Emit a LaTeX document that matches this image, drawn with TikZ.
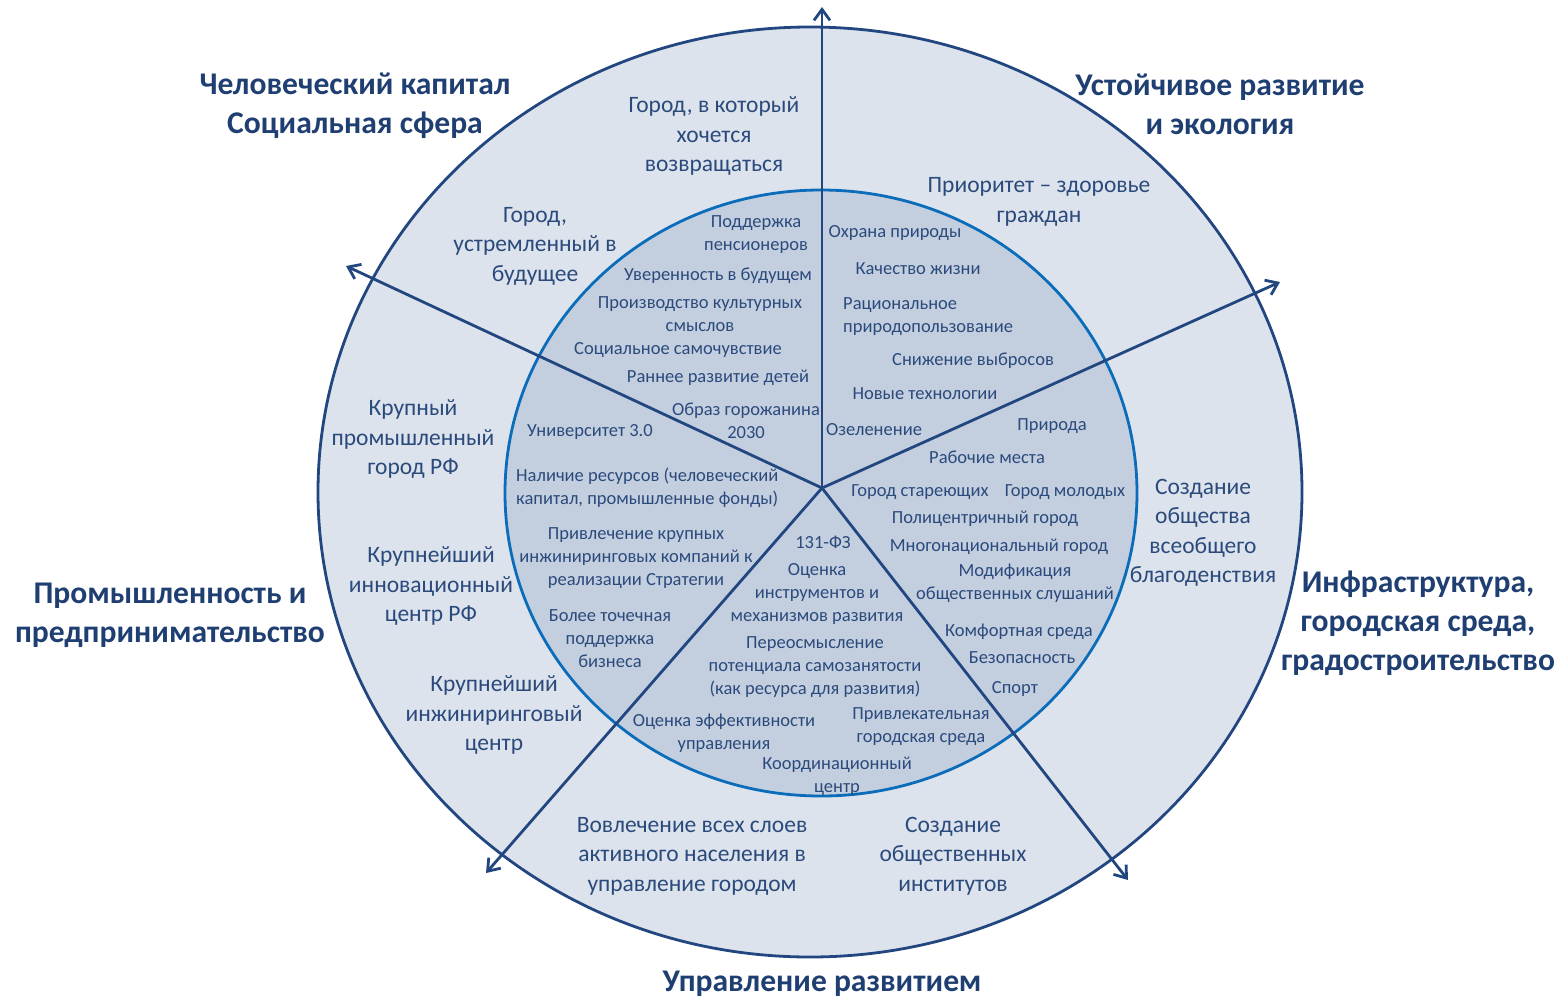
\documentclass[tikz,border=0pt]{standalone}
\usepackage{fontspec}
\setmainfont{Carlito}
\usetikzlibrary{arrows.meta}
\definecolor{outerfill}{HTML}{DCE3EC}
\definecolor{innerfill}{HTML}{C3CFDF}
\definecolor{innerline}{HTML}{0B6CBA}
\definecolor{axisc}{HTML}{22467F}
\definecolor{txt}{HTML}{2B4A7C}
\definecolor{hdrc}{HTML}{1F3F72}
\begin{document}
\begin{tikzpicture}[x=1pt,y=-1pt,
  axisline/.style={draw=axisc,line width=2.8pt,-{Straight Barb[length=11pt,width=16pt,line width=2.8pt]}},
  intxt/.style={text=txt,inner sep=0pt,align=center,yshift=-2pt,font=\fontsize{18.5}{23}\selectfont},
  outtxt/.style={text=txt,inner sep=0pt,align=center,yshift=-2pt,font=\fontsize{23.5}{29.5}\selectfont},
  hdrtxt/.style={text=hdrc,inner sep=0pt,align=center,yshift=-2pt,font=\fontsize{31.6}{39}\selectfont\bfseries}]
\useasboundingbox (0,0) rectangle (1563,999);
\filldraw[fill=outerfill,draw=axisc,line width=2.8pt] (810,492) ellipse [x radius=492, y radius=465];
\filldraw[fill=innerfill,draw=innerline,line width=2.8pt] (821,493) ellipse [x radius=316, y radius=303];
\coordinate (C) at (822,488);
\coordinate (N) at (822,7);
\coordinate (UR) at (1280,282);
\coordinate (UL) at (346,266);
\coordinate (LL) at (486,873);
\coordinate (LR) at (1128,880);
\draw[axisline] (C) -- (N);
\draw[axisline] (C) -- (UR);
\draw[axisline] (C) -- (UL);
\draw[axisline] (C) -- (LL);
\draw[axisline] (C) -- (LR);
% headers
\node[hdrtxt] (h1) at (355,104) {Человеческий капитал\\Социальная сфера};
\node[hdrtxt] (h2) at (1220,102) {Устойчивое развитие\\и экология};
\node[hdrtxt] (h3) at (170,613) {Промышленность и\\предпринимательство};
\node[hdrtxt] (h4) at (1418,621) {Инфраструктура,\\городская среда,\\градостроительство};
\node[hdrtxt] (h5) at (822,982) {Управление развитием};
% outer ring
\node[outtxt] (o1) at (714,134) {Город, в который\\хочется\\возвращаться};
\node[outtxt] (o2) at (535,244) {Город,\\устремленный в\\будущее};
\node[outtxt] (o3) at (1039,200) {Приоритет – здоровье\\граждан};
\node[outtxt] (o4) at (413,437) {Крупный\\промышленный\\город РФ};
\node[outtxt] (o5) at (431,584) {Крупнейший\\инновационный\\центр РФ};
\node[outtxt] (o6) at (494,713) {Крупнейший\\инжиниринговый\\центр};
\node[outtxt] (o7) at (1203,531) {Создание\\общества\\всеобщего\\благоденствия};
\node[outtxt] (o8) at (692,854) {Вовлечение всех слоев\\активного населения в\\управление городом};
\node[outtxt] (o9) at (953,854) {Создание\\общественных\\институтов};
% inner: upper left
\node[intxt] (a1) at (756,232.5) {Поддержка\\пенсионеров};
\node[intxt] (a2) at (718,274) {Уверенность в будущем};
\node[intxt] (a3) at (700,312.5) {Производство культурных\\смыслов};
\node[intxt] (a4) at (678,348) {Социальное самочувствие};
\node[intxt] (a5) at (718,376) {Раннее развитие детей};
\node[intxt] (a6) at (746,418.5) {Образ горожанина\\2030};
\node[intxt] (a7) at (590,430) {Университет 3.0};
% inner: upper right
\node[intxt] (b1) at (895,231) {Охрана природы};
\node[intxt] (b2) at (918,267) {Качество жизни};
\node[intxt,align=left,anchor=west] (b3) at (843,314.5) {Рациональное\\природопользование};
\node[intxt] (b4) at (973,359) {Снижение выбросов};
\node[intxt] (b5) at (925,392) {Новые технологии};
\node[intxt] (b6) at (874,428) {Озеленение};
% inner: right
\node[intxt] (c1) at (1052,424) {Природа};
\node[intxt] (c2) at (987,455) {Рабочие места};
\node[intxt] (c3) at (920,490) {Город стареющих};
\node[intxt] (c4) at (1065,490) {Город молодых};
\node[intxt] (c5) at (985,517) {Полицентричный город};
\node[intxt] (c6) at (999,545) {Многонациональный город};
\node[intxt] (c7) at (1015,581.5) {Модификация\\общественных слушаний};
\node[intxt] (c8) at (1019,630) {Комфортная среда};
\node[intxt] (c9) at (1022,656) {Безопасность};
\node[intxt] (c10) at (1015,687) {Спорт};
\node[intxt] (c11) at (921,724.5) {Привлекательная\\городская среда};
% inner: bottom
\node[intxt] (d1) at (823,540) {131-ФЗ};
\node[intxt] (d2) at (817,592) {Оценка\\инструментов и\\механизмов развития};
\node[intxt] (d3) at (815,665) {Переосмысление\\потенциала самозанятости\\(как ресурса для развития)};
\node[intxt] (d4) at (724,731.5) {Оценка эффективности\\управления};
\node[intxt] (d5) at (837,774.5) {Координационный\\центр};
% inner: left
\node[intxt,align=left,anchor=west] (e1) at (516,485.5) {Наличие ресурсов (человеческий\\капитал, промышленные фонды)};
\node[intxt] (e2) at (636,556) {Привлечение крупных\\инжиниринговых компаний к\\реализации Стратегии};
\node[intxt] (e3) at (610,637) {Более точечная\\поддержка\\бизнеса};
\end{tikzpicture}
\end{document}
